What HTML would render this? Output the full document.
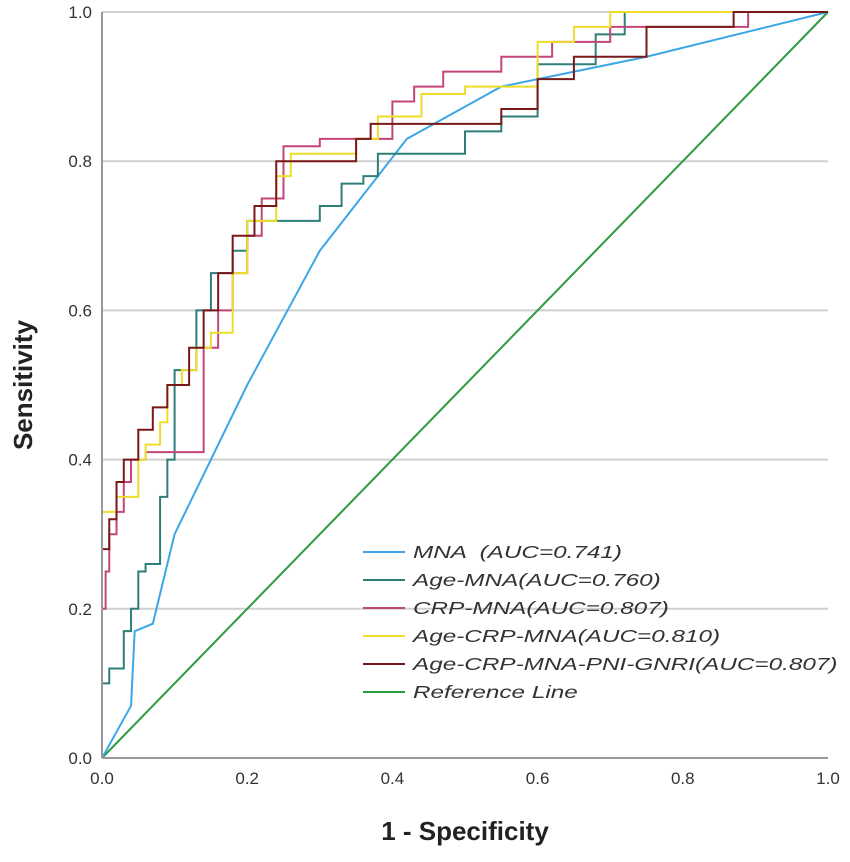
<!DOCTYPE html>
<html><head><meta charset="utf-8"><style>
body{margin:0;background:#fff;}
svg text{font-family:"Liberation Sans",sans-serif;}
</style></head><body>
<svg id="chart" width="850" height="857" xmlns="http://www.w3.org/2000/svg">
<g id="grid"></g>
<g id="curves"></g>
<g id="axes"></g>
<g id="legend"></g>
<text x="465" y="840" text-anchor="middle" font-size="26" font-weight="bold" fill="#222">1 - Specificity</text>
<text transform="translate(32,385) rotate(-90)" text-anchor="middle" font-size="26" font-weight="bold" fill="#222">Sensitivity</text>
</svg>
<script>
const ticks=[0,0.2,0.4,0.6,0.8,1.0];
const tickLabels=["0.0","0.2","0.4","0.6","0.8","1.0"];
const seriesNames=["MNA  (AUC=0.741)","Age-MNA(AUC=0.760)","CRP-MNA(AUC=0.807)","Age-CRP-MNA(AUC=0.810)","Age-CRP-MNA-PNI-GNRI(AUC=0.807)","Reference Line"];
const seriesColors=["#3ba7e6","#2e7e7a","#c4457a","#eedd2a","#7a1818","#2e9a3e"];
const mnaFpr=[0,0.04,0.045,0.07,0.1,0.2,0.3,0.42,0.55,0.75,1];
const mnaTpr=[0,0.07,0.17,0.18,0.3,0.5,0.68,0.83,0.9,0.94,1];
const ageMnaFpr=[0,0,0.01,0.03,0.04,0.05,0.06,0.08,0.09,0.1,0.13,0.15,0.18,0.2,0.22,0.3,0.33,0.36,0.38,0.45,0.5,0.55,0.6,0.68,0.72,0.8,1];
const ageMnaTpr=[0,0.07,0.1,0.12,0.17,0.2,0.25,0.26,0.35,0.4,0.52,0.6,0.65,0.68,0.72,0.72,0.74,0.77,0.78,0.81,0.81,0.84,0.86,0.93,0.97,1,1];
const crpMnaFpr=[0,0.005,0.01,0.02,0.03,0.04,0.06,0.14,0.14,0.16,0.18,0.2,0.22,0.25,0.3,0.4,0.43,0.47,0.55,0.62,0.7,0.8,0.89,0.89,1];
const crpMnaTpr=[0,0.2,0.25,0.3,0.33,0.37,0.4,0.41,0.5,0.55,0.6,0.65,0.7,0.75,0.82,0.83,0.88,0.9,0.92,0.94,0.96,0.98,0.98,1,1];
const ageCrpMnaFpr=[0,0,0.02,0.05,0.06,0.08,0.09,0.11,0.13,0.15,0.18,0.2,0.24,0.26,0.3,0.35,0.38,0.44,0.5,0.6,0.65,0.7,0.8,1];
const ageCrpMnaTpr=[0,0.28,0.33,0.35,0.4,0.42,0.45,0.5,0.52,0.55,0.57,0.65,0.72,0.78,0.81,0.81,0.83,0.86,0.89,0.9,0.96,0.98,1,1];
const fullFpr=[0,0,0.01,0.02,0.03,0.05,0.07,0.09,0.12,0.14,0.16,0.18,0.18,0.21,0.24,0.27,0.35,0.37,0.43,0.55,0.6,0.65,0.75,0.75,0.87,1];
const fullTpr=[0,0.26,0.28,0.32,0.37,0.4,0.44,0.47,0.5,0.55,0.6,0.65,0.68,0.7,0.74,0.8,0.8,0.83,0.85,0.85,0.87,0.91,0.94,0.97,0.98,1];
const refFpr=[0,1];
const refTpr=[0,1];

const NS="http://www.w3.org/2000/svg";
const X0=102,X1=828,Y0=758,Y1=12;
function sx(v){return X0+v*(X1-X0);}
function sy(v){return Y0-v*(Y0-Y1);}
function mk(tag,attrs,parent){const e=document.createElementNS(NS,tag);for(const k in attrs)e.setAttribute(k,attrs[k]);parent.appendChild(e);return e;}
const grid=document.getElementById('grid'),axes=document.getElementById('axes'),curves=document.getElementById('curves'),legend=document.getElementById('legend');
ticks.forEach((t,i)=>{
  if(t>0){const g=mk('line',{x1:X0,x2:X1,y1:sy(t),y2:sy(t),stroke:'#cfcfcf','stroke-width':2},grid);
  
  }
  const yl=mk('text',{x:X0-10,y:sy(t)+6,'text-anchor':'end','font-size':17,fill:'#333'},axes);
  yl.textContent=tickLabels[i];
  
  
  const xl=mk('text',{x:sx(t),y:Y0+26,'text-anchor':'middle','font-size':17,fill:'#333'},axes);
  xl.textContent=tickLabels[i];
  
  
});
const ya=mk('line',{x1:X0,x2:X0,y1:Y1,y2:Y0,stroke:'#999','stroke-width':2},axes);


const xa=mk('line',{x1:X0,x2:X1,y1:Y0,y2:Y0,stroke:'#999','stroke-width':2},axes);


function pts(fx,fy,step){let p=[];for(let i=0;i<fx.length;i++){if(step&&i>0)p.push(sx(fx[i-1])+','+sy(fy[i]));p.push(sx(fx[i])+','+sy(fy[i]));}return p.join(' ');}
const data=[[refFpr,refTpr,false],[mnaFpr,mnaTpr,false],[ageMnaFpr,ageMnaTpr,true],[crpMnaFpr,crpMnaTpr,true],[ageCrpMnaFpr,ageCrpMnaTpr,true],[fullFpr,fullTpr,true]];
const idx=[5,0,1,2,3,4];
const names=['reference-line','mna-curve','age-mna-curve','crp-mna-curve','age-crp-mna-curve','age-crp-mna-pni-gnri-curve'];
data.forEach((d,i)=>{
  const l=mk('polyline',{points:pts(d[0],d[1],d[2]),fill:'none',stroke:seriesColors[idx[i]],'stroke-width':2},curves);
  
  
});
seriesNames.forEach((n,i)=>{
  const y=552+i*28;
  const ln=mk('line',{x1:363,x2:405,y1:y,y2:y,stroke:seriesColors[i],'stroke-width':2},legend);
  
  
  const t=mk('text',{x:0,y:0,'font-size':18,'font-style':'italic',fill:'#333',transform:'translate(413,'+(y+6)+') scale(1.35,1)'},legend);
  t.style.whiteSpace='pre';
  t.textContent=n;
  
  
});
</script>
</body></html>
